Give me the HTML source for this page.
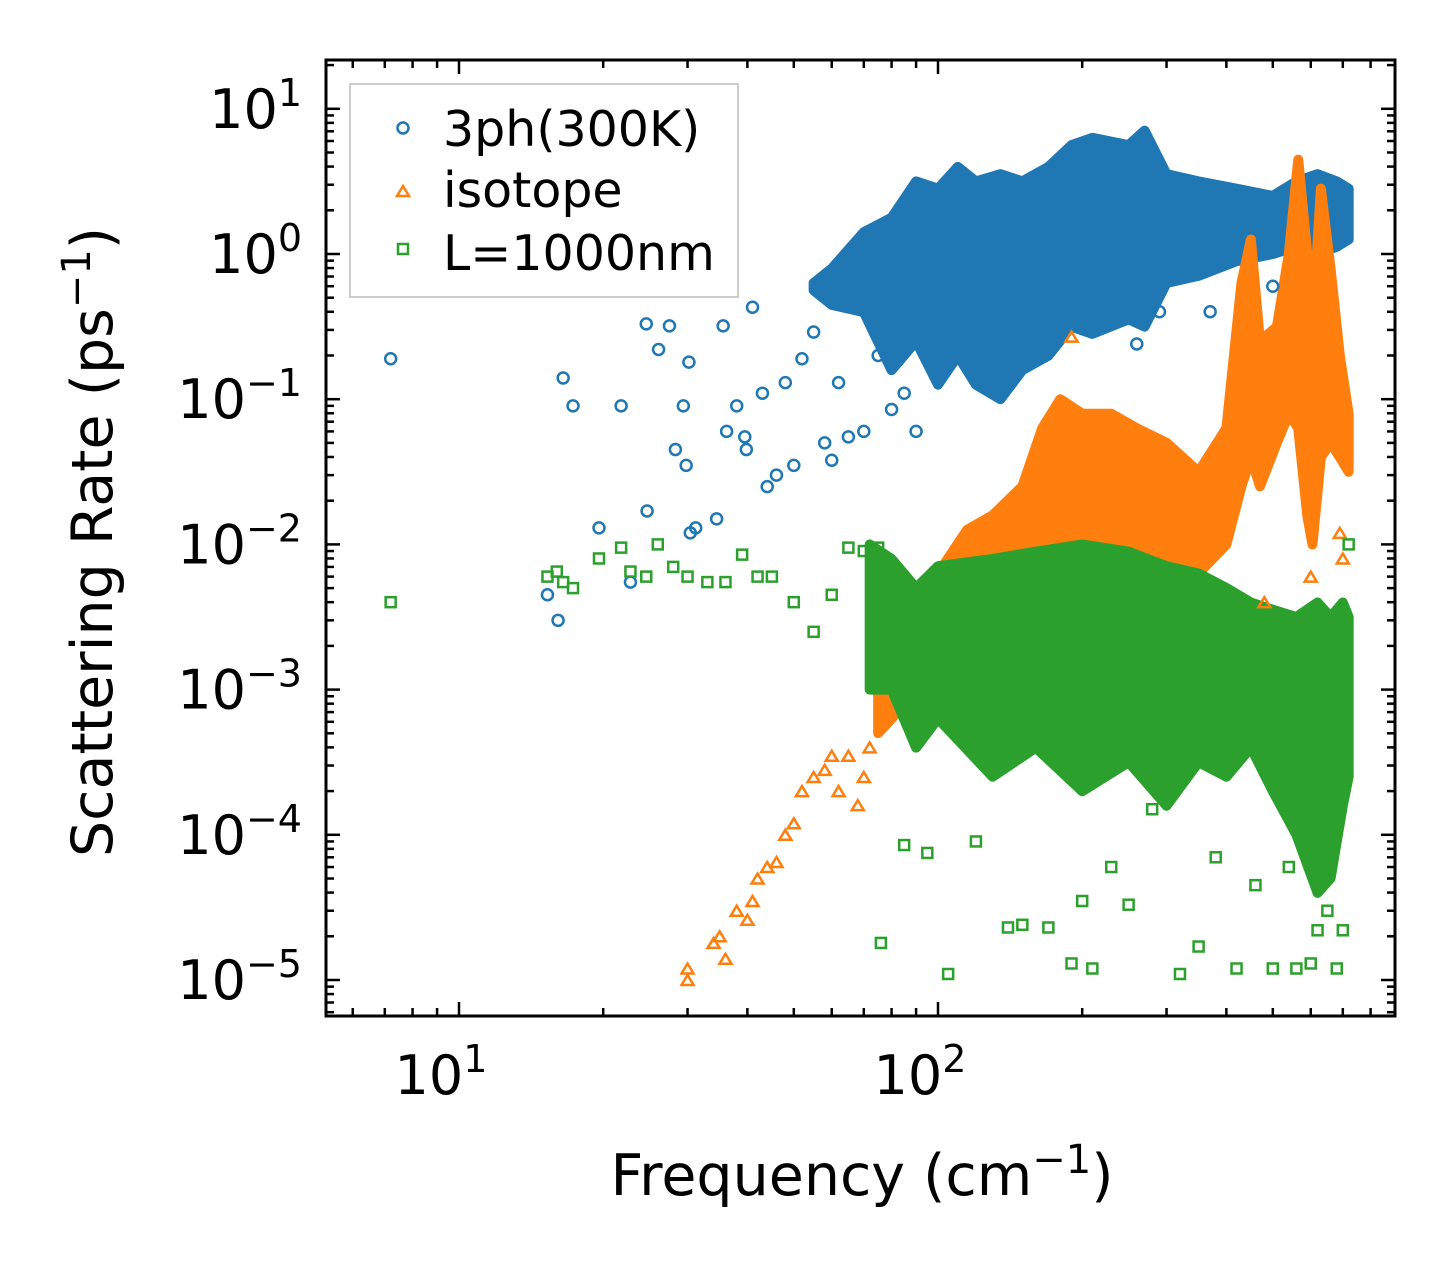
<!DOCTYPE html>
<html><head><meta charset="utf-8"><style>
body{margin:0;background:#fff;}
svg text{font-family:"DejaVu Sans","Liberation Sans",sans-serif;fill:#000;}
</style></head><body>
<svg id="chart" width="1455" height="1265" xmlns="http://www.w3.org/2000/svg">
<rect width="1455" height="1265" fill="#fff"/>
<g id="bands"></g><g id="marks"></g><g id="axes"></g>
<g>
<rect x="350" y="84" width="388" height="213" fill="#fff" fill-opacity="0.8" stroke="#ccc" stroke-width="2"/>
<circle cx="403" cy="128" r="5.5" fill="none" stroke="#1f77b4" stroke-width="2.5"/>
<text x="443" y="146" font-size="49">3ph(300K)</text>
<path d="M397,196 L403,186 L409,196 Z" fill="none" stroke="#ff7f0e" stroke-width="2.5"/>
<text x="443" y="207" font-size="49">isotope</text>
<rect x="398" y="244" width="10" height="10" fill="none" stroke="#2ca02c" stroke-width="2.5"/>
<text x="443" y="270" font-size="49">L=1000nm</text>
</g>
<text x="862" y="1195" font-size="57" text-anchor="middle">Frequency (cm<tspan dy="-22" font-size="40">−1</tspan><tspan dy="22">)</tspan></text>
<text transform="translate(112,542) rotate(-90)" font-size="57" text-anchor="middle">Scattering Rate (ps<tspan dy="-22" font-size="40">−1</tspan><tspan dy="22">)</tspan></text>
</svg>
<script>
const L=326,R=1395,T=60,B=1016;
function xs(f){return 459+479*(Math.log10(f)-1);}
function ys(lg){return 254-145.2*lg;}
// bands: [freq, lo(log10), hi(log10)]
const blueBand=[[55,-0.25,-0.2],[60,-0.35,-0.1],[70,-0.4,0.15],[80,-0.8,0.25],[90,-0.6,0.5],[100,-0.9,0.45],[110,-0.7,0.6],[120,-0.9,0.5],[135,-1.0,0.55],[150,-0.8,0.5],[170,-0.7,0.6],[190,-0.5,0.75],[210,-0.55,0.8],[250,-0.45,0.75],[270,-0.5,0.85],[300,-0.2,0.55],[350,-0.15,0.5],[420,-0.05,0.45],[500,0.0,0.4],[560,0.05,0.5],[620,0.0,0.55],[680,0.05,0.5],[720,0.1,0.45]];
const orangeBand=[[75,-3.3,-3.0],[80,-3.2,-2.8],[90,-3.0,-2.5],[100,-2.8,-2.2],[115,-2.6,-1.9],[130,-2.4,-1.8],[150,-2.3,-1.6],[165,-2.1,-1.2],[180,-2.0,-1.0],[200,-2.0,-1.1],[230,-2.1,-1.1],[260,-2.2,-1.2],[300,-2.2,-1.3],[350,-2.2,-1.5],[400,-2.0,-1.2],[430,-1.6,-0.2],[450,-1.4,0.1],[470,-1.6,-0.6],[510,-1.3,-0.5],[540,-1.1,0.0],[565,-1.2,0.65],[590,-1.8,0.0],[605,-2.0,-0.5],[630,-1.4,0.45],[660,-1.3,-0.1],[690,-1.4,-0.7],[720,-1.5,-1.1]];
const greenBand=[[72,-3.0,-2.0],[80,-3.0,-2.1],[90,-3.4,-2.3],[100,-3.2,-2.15],[130,-3.6,-2.1],[160,-3.4,-2.05],[200,-3.7,-2.0],[250,-3.5,-2.05],[300,-3.8,-2.15],[350,-3.5,-2.2],[400,-3.6,-2.3],[450,-3.4,-2.4],[500,-3.7,-2.45],[560,-4.0,-2.5],[620,-4.4,-2.4],[660,-4.3,-2.5],[700,-3.8,-2.4],[720,-3.6,-2.5]];
const blueX=[7.2,15.3,16.1,16.5,17.3,19.6,21.8,22.8,24.6,24.7,26.1,27.5,28.3,29.4,29.8,30.2,30.4,31.2,34.5,35.6,36.2,38,39.5,39.8,41,43,44,46,48,50,52,55,58,60,62,65,70,75,80,85,90,210,260,290,370,500];
const blueY=[0.19,0.0045,0.003,0.14,0.09,0.013,0.09,0.0055,0.33,0.017,0.22,0.32,0.045,0.09,0.035,0.18,0.012,0.013,0.015,0.32,0.06,0.09,0.055,0.045,0.43,0.11,0.025,0.03,0.13,0.035,0.19,0.29,0.05,0.038,0.13,0.055,0.06,0.2,0.085,0.11,0.06,0.3,0.24,0.4,0.4,0.6];
const orangeX=[30,30,34,35,36,38,40,41,42,44,46,48,50,52,55,58,60,62,65,68,70,72,190,480,600,690,700];
const orangeY=[1e-5,1.2e-5,1.8e-5,2e-5,1.4e-5,3e-5,2.6e-5,3.5e-5,5e-5,6e-5,6.5e-5,1e-4,1.2e-4,2e-4,2.5e-4,2.8e-4,3.5e-4,2e-4,3.5e-4,1.6e-4,2.5e-4,4e-4,0.27,0.004,0.006,0.012,0.008];
const greenX=[7.2,15.3,16,16.5,17.3,19.6,21.8,22.8,24.6,26,28,30,33,36,39,42,45,50,55,60,65,70,75,76,85,95,105,120,140,150,170,190,200,210,230,250,280,320,350,380,420,460,500,540,560,600,620,650,680,700,720];
const greenY=[0.004,0.006,0.0065,0.0055,0.005,0.008,0.0095,0.0065,0.006,0.01,0.007,0.006,0.0055,0.0055,0.0085,0.006,0.006,0.004,0.0025,0.0045,0.0095,0.009,0.0095,1.8e-5,8.5e-5,7.5e-5,1.1e-5,9e-5,2.3e-5,2.4e-5,2.3e-5,1.3e-5,3.5e-5,1.2e-5,6e-5,3.3e-5,1.5e-4,1.1e-5,1.7e-5,7e-5,1.2e-5,4.5e-5,1.2e-5,6e-5,1.2e-5,1.3e-5,2.2e-5,3e-5,1.2e-5,2.2e-5,0.01];
const NS="http://www.w3.org/2000/svg";
const bands=document.getElementById('bands'),marks=document.getElementById('marks'),axes=document.getElementById('axes');
function mk(t,a,p){const e=document.createElementNS(NS,t);for(const k in a)e.setAttribute(k,a[k]);p.appendChild(e);return e;}
function band(arr,col,name){
 let up=arr.map(d=>xs(d[0])+','+ys(d[2])),lo=arr.slice().reverse().map(d=>xs(d[0])+','+ys(d[1]));
 const p=mk('polygon',{points:up.concat(lo).join(' '),fill:col,stroke:col,'stroke-width':10,'stroke-linejoin':'round'},bands);
 
 
}
band(blueBand,'#1f77b4','blue-dense-band');
band(orangeBand,'#ff7f0e','orange-dense-band');
band(greenBand,'#2ca02c','green-dense-band');
function pts(X,Y,col,shape,name){
 X.forEach((f,i)=>{const x=xs(f),y=ys(Math.log10(Y[i]));let e;
  if(shape==='c')e=mk('circle',{cx:x,cy:y,r:5.5,fill:'none',stroke:col,'stroke-width':2.5},marks);
  else if(shape==='t')e=mk('path',{d:`M${x-6},${y+5}L${x},${y-5}L${x+6},${y+5}Z`,fill:'none',stroke:col,'stroke-width':2.5},marks);
  else e=mk('rect',{x:x-5,y:y-5,width:10,height:10,fill:'none',stroke:col,'stroke-width':2.5},marks);
  
  
 });
}
pts(blueX,blueY,'#1f77b4','c','point-3ph');
pts(orangeX,orangeY,'#ff7f0e','t','point-isotope');
pts(greenX,greenY,'#2ca02c','s','point-boundary');
const fr=mk('rect',{x:L,y:T,width:R-L,height:B-T,fill:'none',stroke:'#000','stroke-width':3},axes);


function tk(x1,y1,x2,y2){mk('line',{x1,y1,x2,y2,stroke:'#000','stroke-width':2.5},axes);}
for(let d=0;d<3;d++){for(let m=1;m<10;m++){const f=m*Math.pow(10,d);const x=xs(f);if(x<L||x>R)continue;const len=m===1?14:8;tk(x,B,x,B-len);tk(x,T,x,T+len);}}
const xTickVals=[1,2];
xTickVals.forEach(p=>{const t=mk('text',{x:xs(Math.pow(10,p))-18,y:1094,'font-size':54,'text-anchor':'middle'},axes);t.innerHTML='10<tspan dy="-22" font-size="38">'+p+'</tspan>';
 
 });
const yTickVals=[1,0,-1,-2,-3,-4,-5];
for(let p=-6;p<=1;p++){for(let m=1;m<10;m++){const y=ys(p+Math.log10(m));if(y<T||y>B)continue;const len=m===1?14:8;tk(L,y,L+len,y);tk(R,y,R-len,y);}}
yTickVals.forEach(p=>{const t=mk('text',{x:302,y:ys(p)+19,'font-size':54,'text-anchor':'end'},axes);t.innerHTML='10<tspan dy="-22" font-size="38">'+(p<0?'−'+(-p):p)+'</tspan>';
 
 });
</script>
</body></html>
